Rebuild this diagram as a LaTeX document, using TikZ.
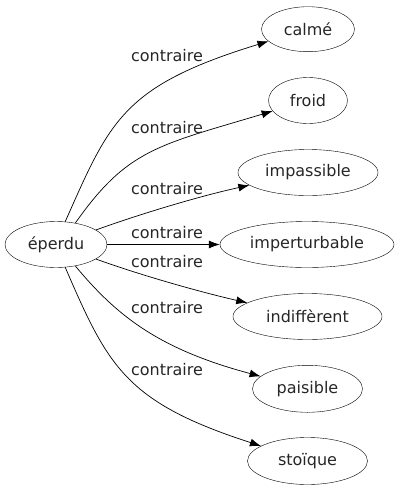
\documentclass[tikz,border=0pt]{standalone}
\usepackage{fontspec}
\setmainfont{DejaVu Sans}
\usetikzlibrary{arrows.meta,shapes.geometric}
\begin{document}
\begin{tikzpicture}[x=1pt,y=-1pt,
  word/.style={draw,ellipse,inner sep=0pt,minimum height=46pt,font=\fontsize{16}{18}\selectfont,text=black!85},
  rel/.style={-{Latex[length=11pt,width=8pt]},line width=0.7pt},
  lab/.style={font=\fontsize{16}{18}\selectfont,text=black!85,inner sep=0pt}]
\useasboundingbox (0,0) rectangle (400,491);
\node[word,minimum width=102pt] (e) at (56,244.5) {éperdu};
\node[word,minimum width=93pt,minimum height=45pt] (a) at (308,29.2) {calmé};
\node[word,minimum width=79pt] (b) at (308,100.5) {froid};
\node[word,minimum width=140pt] (c) at (308,172.5) {impassible};
\node[word,minimum width=174pt] (d) at (307,244.5) {imperturbable};
\node[word,minimum width=149pt] (f) at (307.5,316.5) {indiffèrent};
\node[word,minimum width=110pt,minimum height=47pt] (g) at (307.5,388.8) {paisible};
\node[word,minimum width=120pt,minimum height=47pt] (h) at (307.5,461) {stoïque};
\draw[rel] (e.68) .. controls (109.8,121.4) and (122,86) .. (a);
\draw[rel] (e.48) .. controls (127.4,149.2) and (157.6,145.5) .. (b);
\draw[rel] (e.20) .. controls (140,214) and (200,196) .. (c);
\draw[rel] (e) -- (d);
\draw[rel] (e.-20) .. controls (140,275) and (200,292) .. (f);
\draw[rel] (e.-48) .. controls (115.2,313.8) and (156.1,348.5) .. (g);
\draw[rel] (e.-68) .. controls (108,366.2) and (125,402) .. (h);
\node[lab] (l1) at (167,56) {contraire};
\node[lab] (l2) at (167,127.5) {contraire};
\node[lab] (l3) at (167,189) {contraire};
\node[lab] (l4) at (167,233) {contraire};
\node[lab] (l5) at (167,262) {contraire};
\node[lab] (l6) at (167,308) {contraire};
\node[lab] (l7) at (167,370) {contraire};
\end{tikzpicture}
\end{document}
